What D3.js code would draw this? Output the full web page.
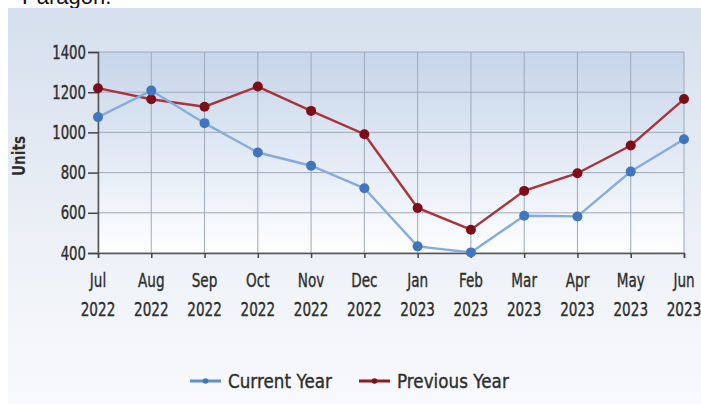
<!DOCTYPE html>
<html>
<head>
<meta charset="utf-8">
<script src="https://cdn.jsdelivr.net/npm/d3@7"></script>
<style>
  body { margin: 0; background: #fff; }
  text { font-family: "DejaVu Sans", sans-serif; fill: #2e2e2e; }
</style>
</head>
<body>
<div id="chart"></div>
<script>
const months = ["Jul", "Aug", "Sep", "Oct", "Nov", "Dec", "Jan", "Feb", "Mar", "Apr", "May", "Jun"];
const years = ["2022", "2022", "2022", "2022", "2022", "2022", "2023", "2023", "2023", "2023", "2023", "2023"];
const currentYear = [1076, 1208, 1046, 900, 834, 722, 433, 403, 585, 582, 805, 966];
const previousYear = [1220, 1165, 1128, 1228, 1107, 991, 624, 516, 709, 797, 935, 1166];
const yTicks = [400, 600, 800, 1000, 1200, 1400];

const W = 701, H = 404;
const plot = { left: 98, right: 684, top: 52, bottom: 253 };

const svg = d3.select("#chart").append("svg")
    .attr("width", W)
    .attr("height", H);

const defs = svg.append("defs");

// panel background gradient
const bg = defs.append("linearGradient")
    .attr("id", "panelBg")
    .attr("x1", "0%").attr("x2", "0%").attr("y1", "0%").attr("y2", "100%");
bg.append("stop").attr("offset", "0%").attr("stop-color", "#d5dfed");
bg.append("stop").attr("offset", "60%").attr("stop-color", "#edf1f7");
bg.append("stop").attr("offset", "100%").attr("stop-color", "#f8f9fc");

// plot area gradient
const pg = defs.append("linearGradient")
    .attr("id", "plotBg")
    .attr("x1", "0%").attr("x2", "0%").attr("y1", "0%").attr("y2", "100%");
pg.append("stop").attr("offset", "0%").attr("stop-color", "#c6d5ea");
pg.append("stop").attr("offset", "100%").attr("stop-color", "#fdfeff");

// narrow text helper (the reference font is condensed)
function label(g, tx, ty, str, size, anchor, sx) {
    return g.append("text")
        .attr("transform", `translate(${tx},${ty}) scale(${sx || 0.68},1)`)
        .attr("text-anchor", anchor || "middle")
        .style("font-size", size + "px")
        .style("stroke", "#2e2e2e")
        .style("stroke-width", 0.4)
        .text(str);
}

// the clipped title above the panel
svg.append("text")
    .attr("x", 22)
    .attr("y", 4)
    .style("font-family", "'Liberation Sans', Arial, sans-serif")
    .style("font-size", "22px")
    .style("fill", "#111")
    .text("Paragon.");

svg.append("rect")
    .attr("x", 8).attr("y", 8)
    .attr("width", W - 8).attr("height", H - 8)
    .attr("fill", "url(#panelBg)");

const x = d3.scalePoint()
    .domain(d3.range(months.length))
    .range([plot.left, plot.right]);

const y = d3.scaleLinear()
    .domain([400, 1400])
    .range([plot.bottom, plot.top]);

svg.append("rect")
    .attr("x", plot.left).attr("y", plot.top)
    .attr("width", plot.right - plot.left)
    .attr("height", plot.bottom - plot.top)
    .attr("fill", "url(#plotBg)");

// grid
const grid = svg.append("g").attr("stroke", "#9ea9b8").attr("stroke-width", 1);
grid.selectAll(".hg")
    .data(yTicks)
    .join("line")
    .attr("x1", plot.left).attr("x2", plot.right)
    .attr("y1", d => y(d)).attr("y2", d => y(d));
grid.selectAll(".vg")
    .data(d3.range(months.length))
    .join("line")
    .attr("y1", plot.top).attr("y2", plot.bottom)
    .attr("x1", d => x(d)).attr("x2", d => x(d));

// y axis
const yAxis = svg.append("g")
    .attr("transform", `translate(${plot.left},0)`)
    .call(d3.axisLeft(y).tickValues(yTicks).tickSize(10).tickFormat(""));
yAxis.select(".domain").attr("stroke", "#555").attr("stroke-width", 1.5);
yAxis.selectAll(".tick line").attr("stroke", "#444").attr("stroke-width", 1.5);

const yl = svg.append("g");
yTicks.forEach(t => label(yl, plot.left - 12, y(t) + 6.5, String(t), 19, "end", 0.7));

// x axis
const xAxis = svg.append("g")
    .attr("transform", `translate(0,${plot.bottom})`)
    .call(d3.axisBottom(x).tickSize(5).tickFormat(""));
xAxis.select(".domain").attr("stroke", "#555").attr("stroke-width", 1.5);
xAxis.selectAll(".tick line").attr("stroke", "#444").attr("stroke-width", 1.5);

const xl = svg.append("g");
months.forEach((m, i) => {
    label(xl, x(i), 287, m, 20);
    label(xl, x(i), 316, years[i], 20);
});

// y axis title
svg.append("text")
    .attr("transform", "translate(25,156) rotate(-90) scale(0.8,1)")
    .attr("text-anchor", "middle")
    .style("font-size", "17px")
    .style("font-weight", "bold")
    .text("Units");

const line = d3.line()
    .x((d, i) => x(i))
    .y(d => y(d));

const series = [
    { name: "Current Year", values: currentYear, stroke: "#86acd9", dot: "#3f76bd", key: "#5f8fcc" },
    { name: "Previous Year", values: previousYear, stroke: "#a8343d", dot: "#7f0d18", key: "#8d1a24" }
];

series.slice().reverse().forEach(s => {
    svg.append("path")
        .datum(s.values)
        .attr("fill", "none")
        .attr("stroke", s.stroke)
        .attr("stroke-width", 2.4)
        .attr("d", line);
});
series.slice().reverse().forEach(s => {
    svg.append("g").selectAll("circle")
        .data(s.values)
        .join("circle")
        .attr("cx", (d, i) => x(i))
        .attr("cy", d => y(d))
        .attr("r", 5)
        .attr("fill", s.dot);
});

// legend
const legendPos = [190, 359];
series.forEach((s, i) => {
    const g = svg.append("g").attr("transform", `translate(${legendPos[i]},381)`);
    g.append("line")
        .attr("x1", 0).attr("x2", 31)
        .attr("stroke", s.key)
        .attr("stroke-width", 3);
    g.append("circle")
        .attr("cx", 15.5).attr("r", 2.8)
        .attr("fill", s.dot);
    label(g, 38, 7, s.name, 20, "start", 0.84);
});
</script>
</body>
</html>
